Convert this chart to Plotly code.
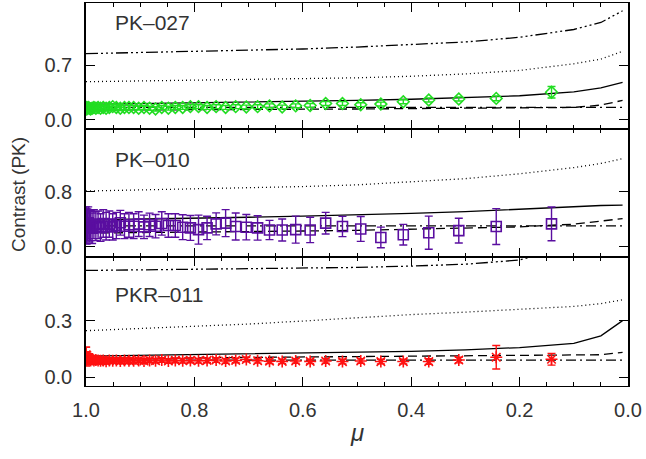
import plotly.graph_objects as go
from plotly.subplots import make_subplots

# ---------------- data ----------------
# model grid (mu)
mu_model = [1.0, 0.9, 0.8, 0.7, 0.6, 0.5, 0.4, 0.3, 0.2, 0.1, 0.05, 0.01]

# observed mu positions (same for all three objects)
mu_obs = [1.000, 0.9996, 0.9987, 0.9975, 0.9959, 0.9939, 0.9915, 0.9887, 0.9854, 0.9818,
          0.9777, 0.9732, 0.9682, 0.9629, 0.9570, 0.9507, 0.9440, 0.9367, 0.9290, 0.9208,
          0.9121, 0.9028, 0.8930, 0.8827, 0.8717, 0.8602, 0.8480, 0.8352, 0.8216, 0.8074,
          0.7924, 0.7766, 0.7599, 0.7424, 0.7238, 0.7042, 0.6834, 0.6614, 0.6380, 0.6131,
          0.5864, 0.5578, 0.5268, 0.4931, 0.4560, 0.4146, 0.3676, 0.3122, 0.2431, 0.1411]

# PK-027
pk027_dash3dot = [0.85, 0.865, 0.88, 0.895, 0.91, 0.935, 0.965, 1.0, 1.06, 1.16, 1.25, 1.40]
pk027_dotted = [0.49, 0.50, 0.51, 0.515, 0.525, 0.54, 0.56, 0.59, 0.635, 0.72, 0.78, 0.88]
pk027_solid = [0.20, 0.21, 0.215, 0.225, 0.235, 0.25, 0.265, 0.285, 0.31, 0.36, 0.41, 0.48]
pk027_dashed = [0.125, 0.13, 0.132, 0.135, 0.137, 0.14, 0.143, 0.147, 0.15, 0.16, 0.19, 0.25]
pk027_dashdot = [0.16, 0.16, 0.16, 0.16, 0.16, 0.16, 0.16, 0.16, 0.16, 0.16, 0.16, 0.16]
pk027_obs = [0.15, 0.16, 0.14, 0.15, 0.16, 0.15, 0.14, 0.15, 0.16, 0.15,
             0.16, 0.15, 0.16, 0.15, 0.16, 0.17, 0.16, 0.15, 0.16, 0.16,
             0.16, 0.15, 0.16, 0.15, 0.14, 0.16, 0.15, 0.16, 0.16, 0.17,
             0.17, 0.16, 0.17, 0.16, 0.17, 0.165, 0.17, 0.18, 0.165, 0.18,
             0.185, 0.21, 0.21, 0.195, 0.203, 0.233, 0.255, 0.268, 0.276, 0.354]
pk027_err = [0.05, 0.045, 0.045, 0.04, 0.04, 0.035, 0.035, 0.035, 0.03, 0.03,
             0.03, 0.03, 0.03, 0.03, 0.03, 0.03, 0.03, 0.03, 0.03, 0.03,
             0.025, 0.025, 0.025, 0.025, 0.025, 0.025, 0.025, 0.025, 0.025, 0.025,
             0.025, 0.025, 0.025, 0.025, 0.025, 0.025, 0.025, 0.025, 0.025, 0.025,
             0.025, 0.025, 0.025, 0.025, 0.025, 0.025, 0.025, 0.025, 0.03, 0.074]

# PK-010
pk010_dotted = [0.81, 0.825, 0.84, 0.855, 0.875, 0.90, 0.94, 0.99, 1.06, 1.15, 1.21, 1.28]
pk010_solid = [0.39, 0.40, 0.415, 0.43, 0.445, 0.46, 0.485, 0.51, 0.545, 0.585, 0.60, 0.605]
pk010_dashed = [0.20, 0.205, 0.21, 0.22, 0.23, 0.24, 0.255, 0.27, 0.29, 0.33, 0.37, 0.41]
pk010_dashdot = [0.305, 0.305, 0.305, 0.305, 0.305, 0.305, 0.305, 0.305, 0.305, 0.305, 0.305, 0.305]
pk010_obs = [0.30, 0.34, 0.28, 0.32, 0.35, 0.29, 0.31, 0.27, 0.33, 0.30,
             0.32, 0.28, 0.34, 0.30, 0.33, 0.29, 0.31, 0.35, 0.30, 0.32,
             0.30, 0.33, 0.29, 0.32, 0.30, 0.34, 0.31, 0.31, 0.285, 0.275,
             0.25, 0.275, 0.334, 0.344, 0.295, 0.285, 0.275, 0.245, 0.245, 0.25,
             0.245, 0.344, 0.295, 0.26, 0.137, 0.177, 0.206, 0.236, 0.295, 0.334]
pk010_err = [0.25, 0.24, 0.24, 0.23, 0.23, 0.22, 0.22, 0.22, 0.21, 0.21,
             0.2, 0.2, 0.2, 0.2, 0.19, 0.19, 0.19, 0.18, 0.18, 0.18,
             0.18, 0.18, 0.17, 0.17, 0.17, 0.17, 0.17, 0.17, 0.18, 0.18,
             0.21, 0.17, 0.16, 0.196, 0.196, 0.184, 0.177, 0.14, 0.16, 0.196,
             0.184, 0.157, 0.147, 0.18, 0.15, 0.15, 0.24, 0.18, 0.26, 0.245]

# PKR-011
pkr011_dash3dot = [0.565, 0.568, 0.571, 0.574, 0.577, 0.581, 0.588, 0.598, 0.62, 0.70, 0.78, 0.90]
pkr011_dotted = [0.247, 0.258, 0.268, 0.282, 0.298, 0.316, 0.332, 0.345, 0.36, 0.375, 0.39, 0.41]
pkr011_solid = [0.113, 0.117, 0.121, 0.125, 0.128, 0.132, 0.138, 0.146, 0.158, 0.18, 0.22, 0.30]
pkr011_dashed = [0.095, 0.10, 0.103, 0.106, 0.108, 0.11, 0.113, 0.116, 0.119, 0.12, 0.12, 0.133]
pkr011_dashdot = [0.092, 0.092, 0.092, 0.092, 0.092, 0.092, 0.092, 0.092, 0.092, 0.092, 0.092, 0.092]
pkr011_obs = [0.11, 0.12, 0.10, 0.105, 0.095, 0.10, 0.09, 0.095, 0.09, 0.092,
              0.09, 0.088, 0.09, 0.086, 0.09, 0.088, 0.09, 0.087, 0.09, 0.088,
              0.088, 0.09, 0.087, 0.09, 0.088, 0.092, 0.087, 0.09, 0.088, 0.09,
              0.088, 0.09, 0.092, 0.087, 0.09, 0.095, 0.088, 0.086, 0.085, 0.087,
              0.085, 0.087, 0.084, 0.087, 0.084, 0.084, 0.084, 0.092, 0.107, 0.096]
pkr011_err = [0.05, 0.04, 0.035, 0.03, 0.025, 0.025, 0.02, 0.02, 0.02, 0.018,
              0.015, 0.015, 0.015, 0.015, 0.015, 0.015, 0.015, 0.015, 0.015, 0.015,
              0.012, 0.012, 0.012, 0.012, 0.012, 0.012, 0.012, 0.012, 0.012, 0.012,
              0.012, 0.012, 0.012, 0.012, 0.012, 0.012, 0.012, 0.012, 0.012, 0.012,
              0.012, 0.012, 0.012, 0.012, 0.012, 0.012, 0.015, 0.015, 0.062, 0.031]

panel_names = ["PK\u2013027", "PK\u2013010", "PKR\u2013011"]
x_ticks = [1.0, 0.8, 0.6, 0.4, 0.2, 0.0]
x_ticktext = ["1.0", "0.8", "0.6", "0.4", "0.2", "0.0"]
y_ticks = [[0.0, 0.7], [0.0, 0.8], [0.0, 0.3]]
y_ranges = [[-0.117, 1.50], [-0.147, 1.71], [-0.045, 0.636]]

# ---------------- figure ----------------
fig = make_subplots(rows=3, cols=1, shared_xaxes=True, vertical_spacing=0)

DOT = "1px,3px"
DASH = "9px,5px"
DASHDOT = "10px,4px,2px,4px"
DASH3DOT = "12px,3px,2px,3px,2px,3px,2px,3px"
LW = 1.3

def model(y, dash, row):
    fig.add_trace(go.Scatter(x=mu_model, y=y, mode="lines", showlegend=False,
                             line=dict(color="black", width=LW, dash=dash)), row=row, col=1)

def obs(y, err, color, symbol, size, row):
    fig.add_trace(go.Scatter(x=mu_obs, y=y, mode="markers", showlegend=False,
                             marker=dict(symbol=symbol, size=size, color=color,
                                         line=dict(color=color, width=1.6)),
                             error_y=dict(type="data", array=err, color=color,
                                          thickness=1.4, width=4)),
                  row=row, col=1)

# panel 1
model(pk027_dash3dot, DASH3DOT, 1)
model(pk027_dotted, DOT, 1)
model(pk027_solid, "solid", 1)
model(pk027_dashed, DASH, 1)
model(pk027_dashdot, DASHDOT, 1)
obs(pk027_obs, pk027_err, "#22dd22", "diamond-open", 9, 1)

# panel 2
model(pk010_dotted, DOT, 2)
model(pk010_solid, "solid", 2)
model(pk010_dashed, DASH, 2)
model(pk010_dashdot, DASHDOT, 2)
obs(pk010_obs, pk010_err, "#5a0ea0", "square-open", 10, 2)

# panel 3
model(pkr011_dash3dot, DASH3DOT, 3)
model(pkr011_dotted, DOT, 3)
model(pkr011_solid, "solid", 3)
model(pkr011_dashed, DASH, 3)
model(pkr011_dashdot, DASHDOT, 3)
obs(pkr011_obs, pkr011_err, "#ff1010", "asterisk-open", 10, 3)

FONT = "Liberation Sans"
TXT = "#333333"

doms = [[0.6710, 1.0], [0.3368, 0.6710], [0.0, 0.3368]]
for i in range(3):
    ax = "yaxis" if i == 0 else f"yaxis{i+1}"
    xa = "xaxis" if i == 0 else f"xaxis{i+1}"
    fig.layout[ax].update(domain=doms[i], range=y_ranges[i], tickvals=y_ticks[i],
                          ticktext=[f"{v:.1f}" for v in y_ticks[i]],
                          ticks="inside", ticklen=9, tickwidth=1.2, tickcolor="black",
                          showline=True, linecolor="black", linewidth=1.5, mirror="ticks",
                          showgrid=False, zeroline=False, ticklabelstandoff=8,
                          tickfont=dict(family=FONT, size=20, color=TXT))
    fig.layout[xa].update(range=[1.0, 0.0], tickvals=x_ticks, ticktext=x_ticktext,
                          ticks="inside", ticklen=9, tickwidth=1.2, tickcolor="black",
                          minor=dict(dtick=0.05, ticks="inside", ticklen=4, tickwidth=1,
                                     tickcolor="black", showgrid=False),
                          showline=True, linecolor="black", linewidth=1, mirror="ticks",
                          showgrid=False, zeroline=False, ticklabelstandoff=6,
                          showticklabels=(i == 2),
                          tickfont=dict(family=FONT, size=20, color=TXT))

L, R, T, B = 86, 18, 3, 73
W, H = 646, 459
pw, ph = W - L - R, H - T - B

def px2paper(px, py):
    return (px - L) / pw, (H - B - py) / ph

annots = []
for name, py in zip(panel_names, [22, 159, 294]):
    xp, yp = px2paper(113, py)
    annots.append(dict(x=xp, y=yp, xref="paper", yref="paper", text=name, showarrow=False,
                       xanchor="left", yanchor="middle",
                       font=dict(family=FONT, size=21, color=TXT)))
xp, yp = px2paper(18, 195)
annots.append(dict(x=xp, y=yp, xref="paper", yref="paper", text="Contrast (PK)",
                   showarrow=False, textangle=-90, xanchor="center", yanchor="middle",
                   font=dict(family=FONT, size=19, color=TXT)))
xp, yp = px2paper(357, 432)
annots.append(dict(x=xp, y=yp, xref="paper", yref="paper", text="<i>\u03bc</i>",
                   showarrow=False, xanchor="center", yanchor="middle",
                   font=dict(family=FONT, size=24, color=TXT)))

fig.update_layout(width=W, height=H, margin=dict(l=L, r=R, t=T, b=B),
                  plot_bgcolor="white", paper_bgcolor="white", annotations=annots,
                  showlegend=False)

fig.write_html("out.html")
